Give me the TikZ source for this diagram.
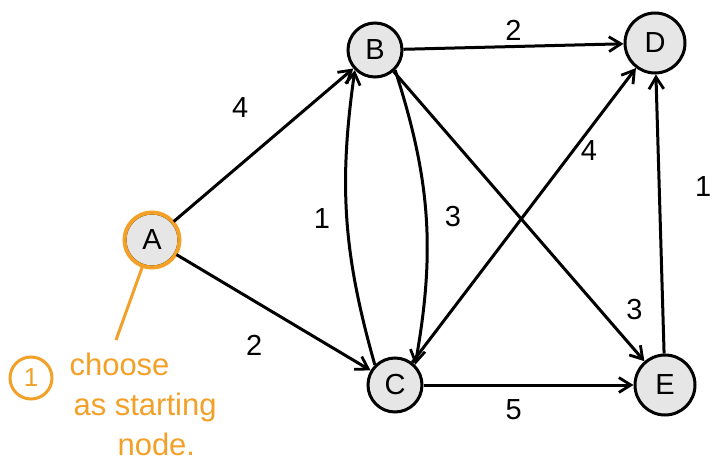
\documentclass[tikz,border=0pt]{standalone}
\usepackage{fontspec}
\setmainfont{Liberation Sans}
\usetikzlibrary{positioning, arrows.meta, calc}

\definecolor{notecol}{RGB}{242,160,40}
\definecolor{nodefill}{RGB}{230,230,230}

\begin{document}
\begin{tikzpicture}[
    x=1pt, y=-1pt,
    >={Straight Barb[length=4.2mm, width=5.2mm, line width=2.8pt]},
    vert/.style={
        draw, circle, line width=3pt, fill=nodefill,
        minimum size=54pt, inner sep=0pt,
        font=\fontsize{29}{32}\selectfont,
    },
    edge/.style={->, line width=3pt},
    wt/.style={font=\fontsize{29}{32}\selectfont},
    note/.style={font=\fontsize{31}{40}\selectfont, text=notecol, align=left},
]
\useasboundingbox (0,0) rectangle (712,476);

% --- Vertices -----------------------------------------------
\node[vert] (A) at (152,240) {A};
\node[vert] (B) at (375,50) {B};
\node[vert, minimum size=60pt] (D) at (655,43) {D};
\node[vert] (C) at (395,385) {C};
\node[vert, minimum size=60pt] (E) at (665,385) {E};

% orange ring marking the start
\draw[notecol, line width=4pt] (A) circle (27.5pt);

% --- Edges --------------------------------------------------
\draw[edge] (A) -- node[wt, pos=0.37, yshift=57pt] {4} (B);
\draw[edge] (A) -- node[wt, pos=0.4, yshift=-44pt] {2} (C);
\draw[edge] (B) -- node[wt, above=1pt] {2} (D);
\draw[edge] (B.south east) to[bend left=14] node[wt, right=14pt] {3} (C.north east);
\draw[edge] (C.north west) to[bend left=12] node[wt, left=12pt] {1} (B.south west);
\draw[edge] (B) -- node[wt, pos=0.9, xshift=15pt, yshift=23pt] {3} (E);
\draw[edge] (C) -- node[wt, pos=0.79, yshift=-21pt] {4} (D);
\draw[edge] (C) -- node[wt, pos=0.43, yshift=-25pt] {5} (E);
\draw[edge] (E) -- node[wt, pos=0.6, xshift=44pt] {1} (D);

% --- Annotation on the starting node ------------------------
\node[draw=notecol, circle, line width=3pt, text=notecol,
      minimum size=42pt, inner sep=0pt,
      font=\fontsize{26}{28}\selectfont] (one) at (31,378) {1};
\coordinate (tip) at (116,340);
\draw[notecol, line width=3pt] (A) -- (tip);
\node[note, anchor=north west] (txt) at (66,350)
    {choose\\\hspace*{4pt}as starting\\\hspace*{48pt}node.};

\end{tikzpicture}
\end{document}
